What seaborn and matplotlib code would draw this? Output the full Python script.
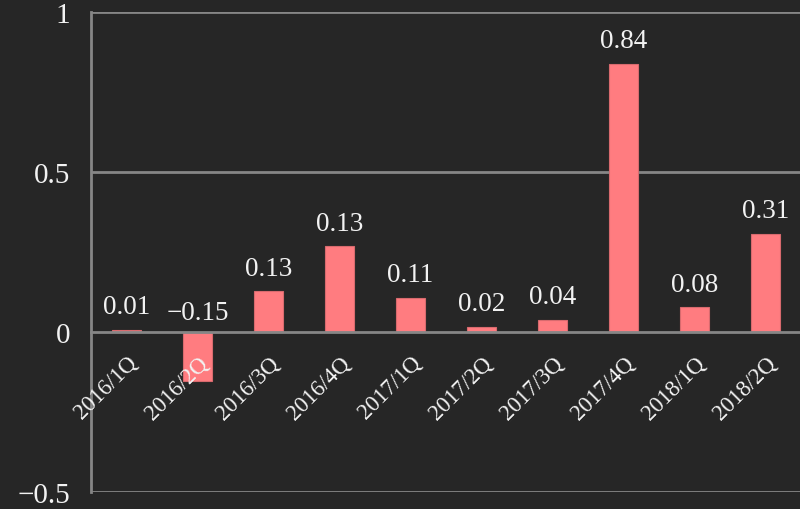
import numpy as np
import pandas as pd
import seaborn as sns
import matplotlib.pyplot as plt
from matplotlib.ticker import FixedLocator

# quarterly values
quarters = ["2016/1Q", "2016/2Q", "2016/3Q", "2016/4Q", "2017/1Q",
            "2017/2Q", "2017/3Q", "2017/4Q", "2018/1Q", "2018/2Q"]
values = [0.006, -0.152, 0.127, 0.268, 0.106, 0.017, 0.037, 0.838, 0.077, 0.306]
# data labels as printed on the chart
labels = ["0.01", "\u22120.15", "0.13", "0.13", "0.11", "0.02", "0.04", "0.84", "0.08", "0.31"]

y_ticks = [-0.5, 0, 0.5, 1]
y_tick_labels = ["\u22120.5", "0", "0.5", "1"]

bg = "#262626"
bar_color = "#FF7C80"
line_color = "#868686"
text_color = "#F2F2F2"

sns.set_style("dark")
plt.rcParams["font.family"] = ["Liberation Serif", "DejaVu Serif"]

df = pd.DataFrame({"quarter": quarters, "value": values})

fig = plt.figure(figsize=(8, 5.1), dpi=100, facecolor=bg)
ax = fig.add_axes([91 / 800, 17 / 510, 710 / 800, 480 / 510])
ax.set_facecolor(bg)

sns.barplot(data=df, x="quarter", y="value", color=bar_color, saturation=1,
            width=0.4, edgecolor="#D86A6E", linewidth=0.8, ax=ax, zorder=2)

ax.set_xlim(-0.5, len(quarters) - 0.5)
ax.set_ylim(-0.5, 1)
ax.set_xlabel("")
ax.set_ylabel("")

# axis (tick labels) drawn over bars, gridlines under them
ax.set_axisbelow(False)
ax.grid(False)
for g in [-0.5, 0.5, 1]:
    ax.axhline(g, color=line_color, linewidth=2, zorder=0)

ax.yaxis.set_major_locator(FixedLocator(y_ticks))
ax.set_yticklabels(y_tick_labels)

# spines
for s in ["top", "right"]:
    ax.spines[s].set_visible(False)
ax.spines["left"].set_color(line_color)
ax.spines["left"].set_linewidth(2)
ax.spines["left"].set_zorder(1)
ax.spines["bottom"].set_position(("data", 0))
ax.spines["bottom"].set_color(line_color)
ax.spines["bottom"].set_linewidth(2)
ax.spines["bottom"].set_zorder(3)

ax.tick_params(axis="y", colors=line_color, length=7, width=2, labelsize=21,
               labelcolor=text_color, pad=8)
ax.tick_params(axis="x", which="major", length=0, labelsize=16.5,
               labelcolor=text_color, pad=14)
ax.set_xticks(np.arange(len(quarters) + 1) - 0.5, minor=True)
ax.tick_params(axis="x", which="minor", length=5, width=2, colors=line_color,
               direction="out")
for lab in ax.get_xticklabels():
    lab.set_rotation(45)
    lab.set_ha("right")
    lab.set_va("top")
    lab.set_rotation_mode("anchor")

# data labels
for i, (v, t) in enumerate(zip(values, labels)):
    off = 12 if v >= 0 else 9.5
    ax.annotate(t, xy=(i, max(v, 0)), xytext=(0, off), textcoords="offset points",
                ha="center", va="baseline", fontsize=19.5, color=text_color, zorder=4)

fig.savefig("out.png", dpi=100, facecolor=bg)
